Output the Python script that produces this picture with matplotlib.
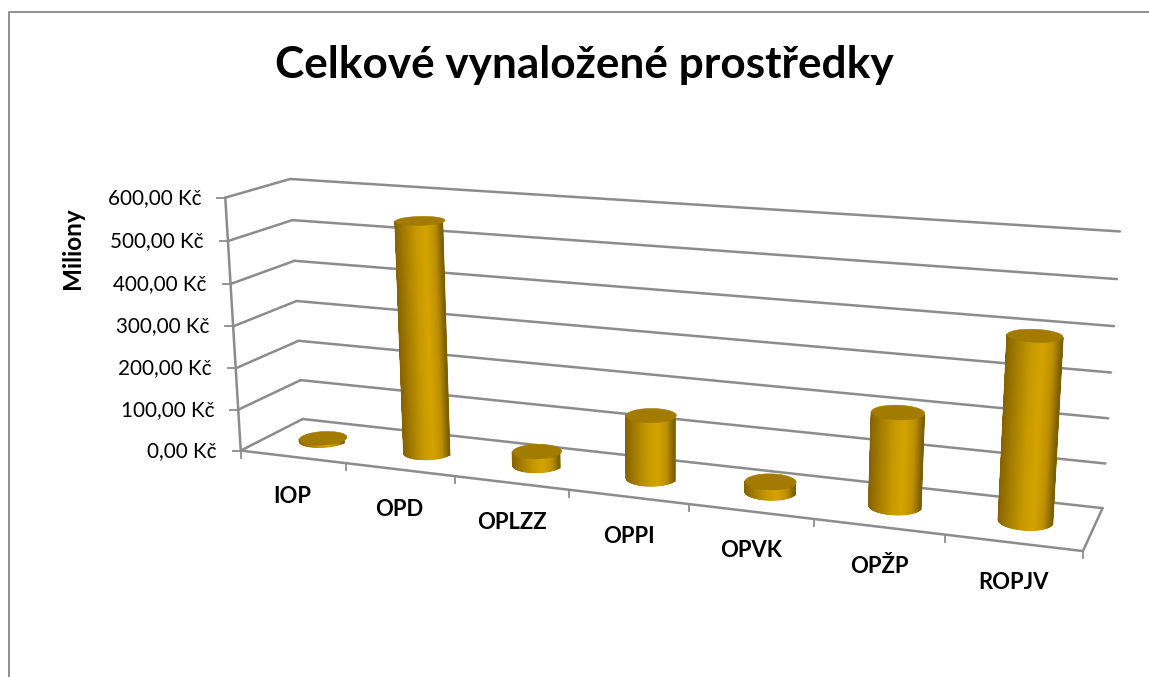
import matplotlib
matplotlib.use("Agg")
import matplotlib.pyplot as plt
import numpy as np
from matplotlib.collections import LineCollection
from matplotlib.colors import LinearSegmentedColormap

categories = ["IOP", "OPD", "OPLZZ", "OPPI", "OPVK", "OPŽP", "ROPJV"]
values = [5, 549, 32, 146, 23, 209, 400]  # miliony Kč
y_ticks = [0, 100, 200, 300, 400, 500, 600]
y_tick_labels = ["0,00 Kč", "100,00 Kč", "200,00 Kč", "300,00 Kč", "400,00 Kč", "500,00 Kč", "600,00 Kč"]

plt.rcParams["font.family"] = ["Lato", "DejaVu Sans"]
GRID = "#8c8c8c"
side_cmap = LinearSegmentedColormap.from_list(
    "side", [(0, "#876500"), (0.2, "#a67e00"), (0.45, "#c89a00"), (0.65, "#d6a400"), (0.85, "#bd9000"), (1, "#7f6000")]
)

# the 3D frame of the chart: (category, value, depth) -> picture pixel
frame = [
    ((0, 0, 0), (241, 451)),
    ((7, 0, 0), (1083, 551)),
    ((7, 0, 1), (1102.7, 507.7)),
    ((0, 0, 1), (302.7, 419)),
    ((0, 600, 0), (225.5, 197.5)),
    ((0, 600, 1), (290, 179)),
    ((7, 600, 1), (1120, 231.7)),
    ((0, 300, 1), (296.7, 301)),
    ((7, 300, 1), (1111, 372.7)),
    ((0, 300, 0), (233, 326)),
    ((3, 0, 0), (569, 490)),
]


def fit_projection(pairs):
    rows = []
    for (x, y, z), (u, v) in pairs:
        rows.append([x, y, z, 1, 0, 0, 0, 0, -u * x, -u * y, -u * z, -u])
        rows.append([0, 0, 0, 0, x, y, z, 1, -v * x, -v * y, -v * z, -v])
    # scale value axis so the system is not badly conditioned
    a = np.array(rows, dtype=float)
    a[:, [1, 5, 9]] *= 100
    vt = np.linalg.svd(a)[2]
    p = vt[-1].reshape(3, 4)
    p[:, 1] *= 100
    return p


P = fit_projection(frame)


def project(x, y, z):
    x, y, z = np.broadcast_arrays(x, y, z)
    pts = np.stack([x, y, z, np.ones_like(x, dtype=float)], axis=-1) @ P.T
    return pts[..., 0] / pts[..., 2], pts[..., 1] / pts[..., 2]


def seg(ax, a, b, lw=1.8):
    ua, va = project(*a)
    ub, vb = project(*b)
    ax.plot([ua, ub], [va, vb], color=GRID, lw=lw, solid_capstyle="round", zorder=2)


def cylinder(ax, i, value, rx=0.2, rz=0.2):
    th = np.linspace(0, 2 * np.pi, 361)
    cx = i + 0.5 + rx * np.cos(th)
    cz = 0.5 + rz * np.sin(th)
    ub, vb = project(cx, 0.0, cz)
    ut, vt = project(cx, float(value), cz)

    # the bar leans in perspective, so find the real left and right silhouette angles
    c0 = np.array(project(i + 0.5, 0.0, 0.5), dtype=float)
    c1 = np.array(project(i + 0.5, max(float(value), 50.0), 0.5), dtype=float)
    d = (c1 - c0) / np.hypot(*(c1 - c0))
    n = np.array([-d[1], d[0]])
    if n[0] < 0:
        n = -n
    off = (ub - c0[0]) * n[0] + (vb - c0[1]) * n[1]
    front = (th >= np.pi * 0.75) & (th <= np.pi * 2.25)
    a = np.argmin(np.where(th > np.pi / 2, off, np.inf))
    b = np.argmax(np.where(th > np.pi, off, -np.inf))
    idx = np.arange(a, b + 1)
    pos = (off[idx] - off[idx].min()) / (off[idx].max() - off[idx].min())

    X = np.vstack([ub[idx], ut[idx]])
    Y = np.vstack([vb[idx], vt[idx]])
    C = np.vstack([pos, pos])
    ax.pcolormesh(X, Y, C, shading="gouraud", cmap=side_cmap, vmin=0, vmax=1, zorder=3)

    # soft outline so the mesh edge is not jagged
    pts = np.column_stack([ub[idx], vb[idx]])
    segs = np.stack([pts[:-1], pts[1:]], axis=1)
    ax.add_collection(LineCollection(segs, colors=side_cmap((pos[:-1] + pos[1:]) / 2), linewidths=1.0, zorder=3))
    ax.plot([ub[a], ut[a]], [vb[a], vt[a]], color=side_cmap(0.0), lw=1.2, zorder=3)
    ax.plot([ub[b], ut[b]], [vb[b], vt[b]], color=side_cmap(1.0), lw=1.2, zorder=3)

    # top cap
    ax.fill(ut, vt, color="#a27b00", lw=0.4, zorder=4)


fig = plt.figure(figsize=(11.49, 6.77), dpi=100)
ax = fig.add_axes([0, 0, 1, 1])
ax.set_xlim(0, 1149)
ax.set_ylim(677, 0)
ax.axis("off")

# chart border
ax.plot([8.5, 8.5, 1149], [677, 12, 12], color="#8e8e8e", lw=1.4, zorder=1)

# walls, value grid
for t, lab in zip(y_ticks, y_tick_labels):
    seg(ax, (0, t, 0), (0, t, 1))
    seg(ax, (0, t, 1), (7, t, 1))
    u, v = project(0, t, 0)
    ax.plot([u - 8, u], [v, v], color=GRID, lw=1.3, zorder=2)
    ax.text(u - 24, float(v), lab, ha="right", va="center", fontsize=14.9, color="black")

# axis lines and floor edge
seg(ax, (0, 0, 0), (0, 600, 0))
seg(ax, (0, 0, 0), (7, 0, 0))
seg(ax, (7, 0, 0), (7, 0, 1))

for i in range(8):
    u, v = project(i, 0, 0)
    ax.plot([u, u], [v, v + 7], color=GRID, lw=1.3, zorder=2)

for i, (name, val) in enumerate(zip(categories, values)):
    cylinder(ax, i, val)
    u, v = project(i + 0.5, 0, 0)
    ax.text(float(u), float(v) + 39.5, name, ha="center", va="center", fontsize=15.8, fontweight="bold", color="black")

ax.text(584, 65, "Celkové vynaložené prostředky", ha="center", va="center", fontsize=31.8, fontweight="bold", color="black")
ax.text(72, 248, "Miliony", rotation=90, ha="center", va="center", fontsize=17.5, fontweight="bold", color="black")

fig.savefig("out.png", dpi=100)
